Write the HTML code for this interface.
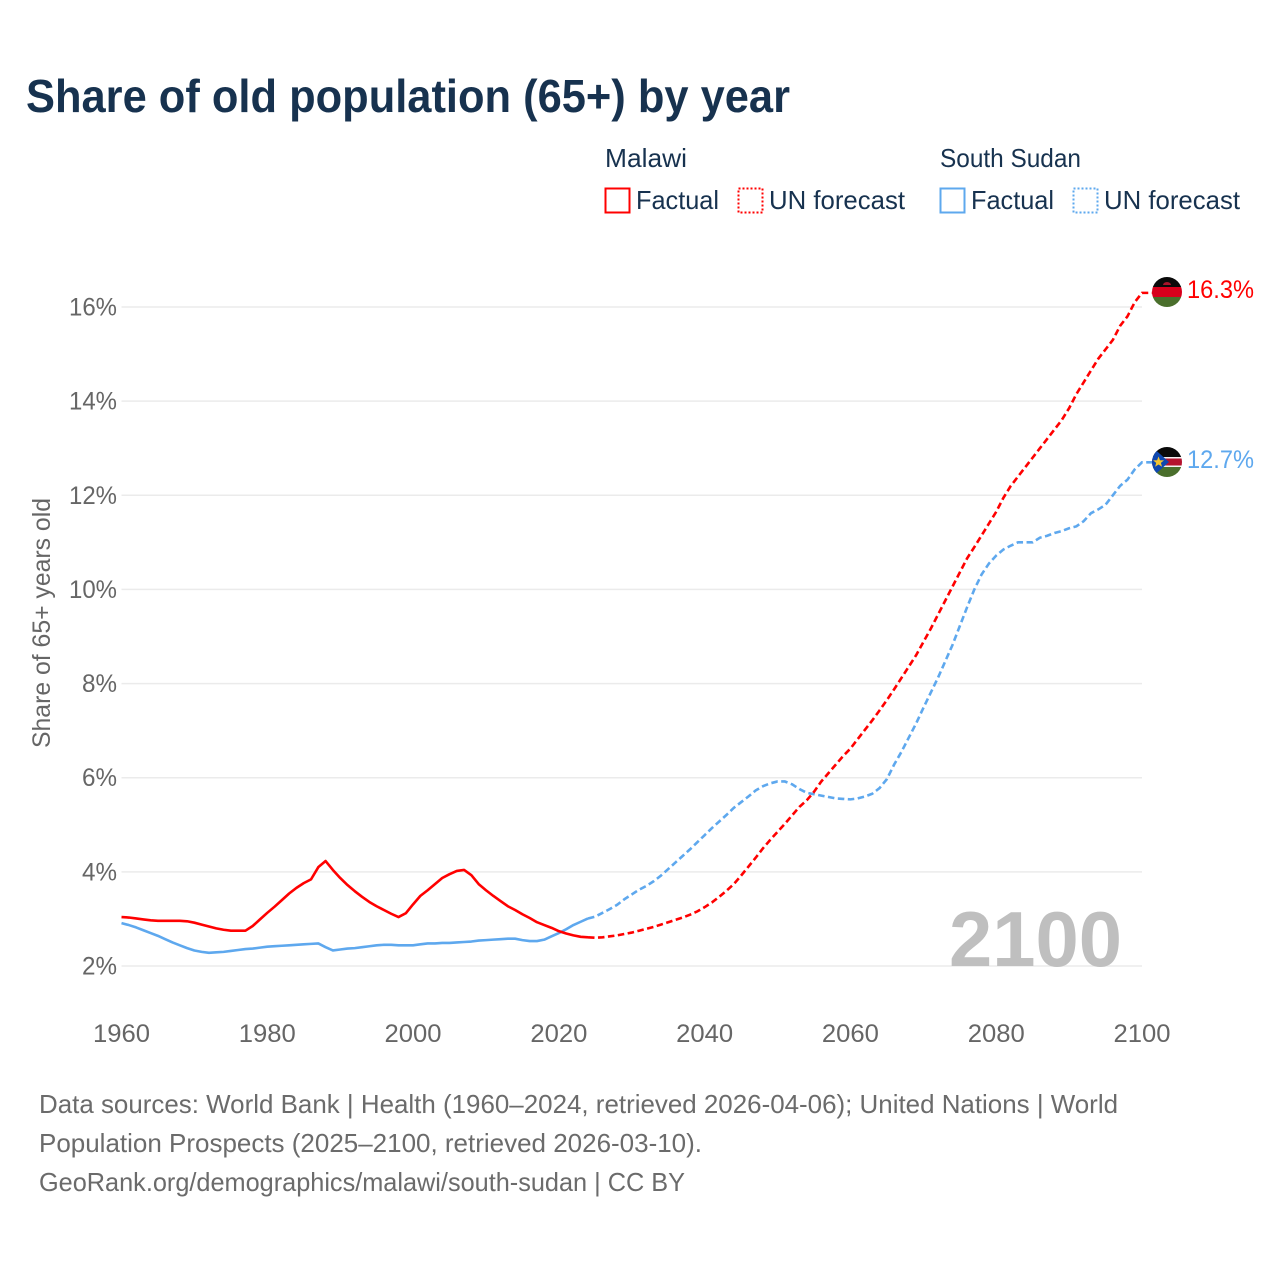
<!DOCTYPE html>
<html lang="en">
<head>
<meta charset="utf-8">
<title>Share of old population (65+) by year</title>
<style>
html,body{margin:0;padding:0;background:#fff;}
svg{display:block;font-family:"Liberation Sans",Arial,sans-serif;}
</style>
</head>
<body>
<svg id="chart" width="1280" height="1280" viewBox="0 0 1280 1280" xmlns="http://www.w3.org/2000/svg">
<defs>
<clipPath id="clip-malawi"><circle cx="1167" cy="292" r="15"/></clipPath>
<clipPath id="clip-ssudan"><circle cx="1167" cy="462" r="15"/></clipPath>
</defs>
<rect x="0" y="0" width="1280" height="1280" fill="#fff"/>
<text x="26" y="112" font-size="46" font-weight="700" fill="#17324f" textLength="764" lengthAdjust="spacingAndGlyphs">Share of old population (65+) by year</text>

<g font-size="26" fill="#17324f">
<text x="605" y="167" textLength="82" lengthAdjust="spacingAndGlyphs">Malawi</text>
<text x="940" y="167" textLength="141" lengthAdjust="spacingAndGlyphs">South Sudan</text>
<rect x="605.500" y="188.500" width="24" height="24" fill="none" stroke="#ff0000" stroke-width="2"/>
<text x="636" y="209" textLength="83" lengthAdjust="spacingAndGlyphs">Factual</text>
<rect x="738.500" y="188.500" width="24" height="24" fill="none" stroke="#ff0000" stroke-width="2" stroke-dasharray="2 2"/>
<text x="769" y="209" textLength="136" lengthAdjust="spacingAndGlyphs">UN forecast</text>
<rect x="940.500" y="188.500" width="24" height="24" fill="none" stroke="#5ea8ee" stroke-width="2"/>
<text x="971" y="209" textLength="83" lengthAdjust="spacingAndGlyphs">Factual</text>
<rect x="1073.500" y="188.500" width="24" height="24" fill="none" stroke="#5ea8ee" stroke-width="2" stroke-dasharray="2 2"/>
<text x="1104" y="209" textLength="136" lengthAdjust="spacingAndGlyphs">UN forecast</text>
</g>

<text transform="translate(50,623) rotate(-90)" text-anchor="middle" font-size="25" fill="#666" textLength="250" lengthAdjust="spacingAndGlyphs">Share of 65+ years old</text>

<g id="grid"></g>
<g id="y-ticks"></g>
<g id="x-ticks"></g>

<text x="949" y="966" font-size="78" font-weight="700" fill="#bfbfbf" textLength="173" lengthAdjust="spacingAndGlyphs">2100</text>

<g id="series"></g>

<g clip-path="url(#clip-malawi)">
<rect x="1152" y="277" width="30" height="10" fill="#0a0a0a"/>
<rect x="1152" y="287" width="30" height="10" fill="#d8001c"/>
<rect x="1152" y="297" width="30" height="10" fill="#4a6f2c"/>
<path d="M1163 285a4 3 0 0 1 8 0z" fill="#a8142a"/>
</g>
<g clip-path="url(#clip-ssudan)">
<rect x="1152" y="447" width="30" height="10" fill="#0a0a0a"/>
<rect x="1152" y="457" width="30" height="10" fill="#f4f4f4"/>
<rect x="1152" y="458.500" width="30" height="7" fill="#b5122e"/>
<rect x="1152" y="467" width="30" height="10" fill="#4a6f2c"/>
<path d="M1150 445L1169 462L1150 479z" fill="#0f47af"/>
<path d="M1158.500 456.500l1.500 3.700 4 .2-3.100 2.500 1.100 3.800-3.500-2.200-3.400 2.200 1.100-3.800-3.100-2.500 4-.2z" fill="#f4c430"/>
</g>
<text id="value-malawi" x="1187" y="298" font-size="25" fill="#ff0000" textLength="67" lengthAdjust="spacingAndGlyphs"></text>
<text id="value-ssudan" x="1187" y="468" font-size="25" fill="#5ea8ee" textLength="67" lengthAdjust="spacingAndGlyphs"></text>

<g font-size="26" fill="#6b6b6b">
<text x="39" y="1113" textLength="1079" lengthAdjust="spacingAndGlyphs">Data sources: World Bank | Health (1960–2024, retrieved 2026-04-06); United Nations | World</text>
<text x="39" y="1152" textLength="663" lengthAdjust="spacingAndGlyphs">Population Prospects (2025–2100, retrieved 2026-03-10).</text>
<text x="39" y="1191" textLength="646" lengthAdjust="spacingAndGlyphs">GeoRank.org/demographics/malawi/south-sudan | CC BY</text>
</g>
</svg>
<script>
const yTickValues = [2, 4, 6, 8, 10, 12, 14, 16];
const xTickYears = [1960, 1980, 2000, 2020, 2040, 2060, 2080, 2100];
const factualStartYear = 1960;
const forecastStartYear = 2024;
const malawiFactual = [3.04,3.03,3.01,2.99,2.97,2.96,2.96,2.96,2.96,2.95,2.92,2.88,2.84,2.80,2.77,2.75,2.75,2.75,2.85,2.99,3.13,3.26,3.40,3.54,3.66,3.76,3.84,4.10,4.23,4.04,3.87,3.72,3.59,3.47,3.36,3.27,3.19,3.11,3.04,3.12,3.31,3.49,3.61,3.74,3.87,3.95,4.02,4.04,3.93,3.74,3.61,3.49,3.38,3.27,3.19,3.10,3.02,2.93,2.87,2.81,2.74,2.69,2.65,2.62,2.61];
const southSudanFactual = [2.91,2.87,2.82,2.76,2.70,2.64,2.57,2.50,2.44,2.38,2.33,2.30,2.28,2.29,2.30,2.32,2.34,2.36,2.37,2.39,2.41,2.42,2.43,2.44,2.45,2.46,2.47,2.48,2.40,2.33,2.35,2.37,2.38,2.40,2.42,2.44,2.45,2.45,2.44,2.44,2.44,2.46,2.48,2.48,2.49,2.49,2.50,2.51,2.52,2.54,2.55,2.56,2.57,2.58,2.58,2.55,2.53,2.53,2.56,2.63,2.70,2.78,2.87,2.94,3.01];
const malawiForecast = [2.61,2.60,2.61,2.63,2.65,2.68,2.71,2.75,2.79,2.83,2.88,2.93,2.98,3.03,3.09,3.16,3.25,3.35,3.47,3.60,3.74,3.92,4.11,4.30,4.50,4.68,4.85,5.02,5.20,5.38,5.52,5.70,5.92,6.10,6.28,6.46,6.62,6.82,7.02,7.22,7.43,7.65,7.88,8.12,8.36,8.60,8.88,9.16,9.46,9.76,10.06,10.36,10.66,10.90,11.15,11.40,11.65,11.95,12.20,12.40,12.60,12.80,13.00,13.20,13.40,13.60,13.85,14.15,14.40,14.65,14.90,15.10,15.30,15.60,15.80,16.10,16.30];
const southSudanForecast = [3.01,3.05,3.13,3.21,3.30,3.42,3.52,3.62,3.70,3.80,3.92,4.06,4.20,4.34,4.48,4.63,4.78,4.93,5.07,5.21,5.36,5.48,5.60,5.73,5.82,5.88,5.92,5.92,5.86,5.76,5.68,5.65,5.62,5.59,5.56,5.55,5.54,5.56,5.60,5.66,5.78,5.97,6.28,6.55,6.85,7.15,7.48,7.80,8.12,8.47,8.82,9.22,9.62,10.00,10.32,10.55,10.72,10.85,10.93,11.00,11.00,11.00,11.10,11.14,11.20,11.24,11.30,11.34,11.45,11.62,11.70,11.80,12.00,12.20,12.33,12.55,12.70];

const NS = 'http://www.w3.org/2000/svg';
function xScale(year){ return 121.5 + (year - 1960) * (1142 - 121.5) / 140; }
function yScale(v){ return 966 - (v - 2) * (966 - 307) / 14; }
function make(tag, attrs, parent, text){
  const el = document.createElementNS(NS, tag);
  for (const k in attrs) el.setAttribute(k, attrs[k]);
  if (text !== undefined) el.textContent = text;
  parent.appendChild(el);
  return el;
}
const gridG = document.getElementById('grid');
const yG = document.getElementById('y-ticks');
const xG = document.getElementById('x-ticks');
const seriesG = document.getElementById('series');

yTickValues.forEach(function(v){
  const line = make('line', {x1:121.5, x2:1142, y1:yScale(v), y2:yScale(v), stroke:'#ebebeb', 'stroke-width':1.5}, gridG);
  
  
  const label = v + '%';
  const t = make('text', {x:117, y:yScale(v)+8.5, 'text-anchor':'end', 'font-size':25, fill:'#666', textLength: v < 10 ? 35 : 48, lengthAdjust:'spacingAndGlyphs'}, yG, label);
  
  
});
xTickYears.forEach(function(y){
  const t = make('text', {x:xScale(y), y:1042, 'text-anchor':'middle', 'font-size':25, fill:'#666', textLength:57, lengthAdjust:'spacingAndGlyphs'}, xG, String(y));
  
  
});
function linePath(values, startYear, extendTo){
  let d = values.map(function(v, i){
    return (i ? 'L' : 'M') + xScale(startYear + i).toFixed(2) + ' ' + yScale(v).toFixed(2);
  }).join('');
  if (extendTo) d += 'L' + extendTo + ' ' + yScale(values[values.length - 1]).toFixed(2);
  return d;
}
const ssFact = make('path', {d:linePath(southSudanFactual, factualStartYear), fill:'none', stroke:'#5ea8ee', 'stroke-width':2.6, 'stroke-linejoin':'round'}, seriesG);


const mwFact = make('path', {d:linePath(malawiFactual, factualStartYear), fill:'none', stroke:'#ff0000', 'stroke-width':2.6, 'stroke-linejoin':'round'}, seriesG);


const ssFore = make('path', {d:linePath(southSudanForecast, forecastStartYear, 1153), fill:'none', stroke:'#5ea8ee', 'stroke-width':2.6, 'stroke-dasharray':'6.5 3.5'}, seriesG);


const mwFore = make('path', {d:linePath(malawiForecast, forecastStartYear, 1153), fill:'none', stroke:'#ff0000', 'stroke-width':2.6, 'stroke-dasharray':'6.5 3.5'}, seriesG);



document.getElementById('value-malawi').textContent = malawiForecast[malawiForecast.length - 1].toFixed(1) + '%';
document.getElementById('value-ssudan').textContent = southSudanForecast[southSudanForecast.length - 1].toFixed(1) + '%';
</script>
</body>
</html>
